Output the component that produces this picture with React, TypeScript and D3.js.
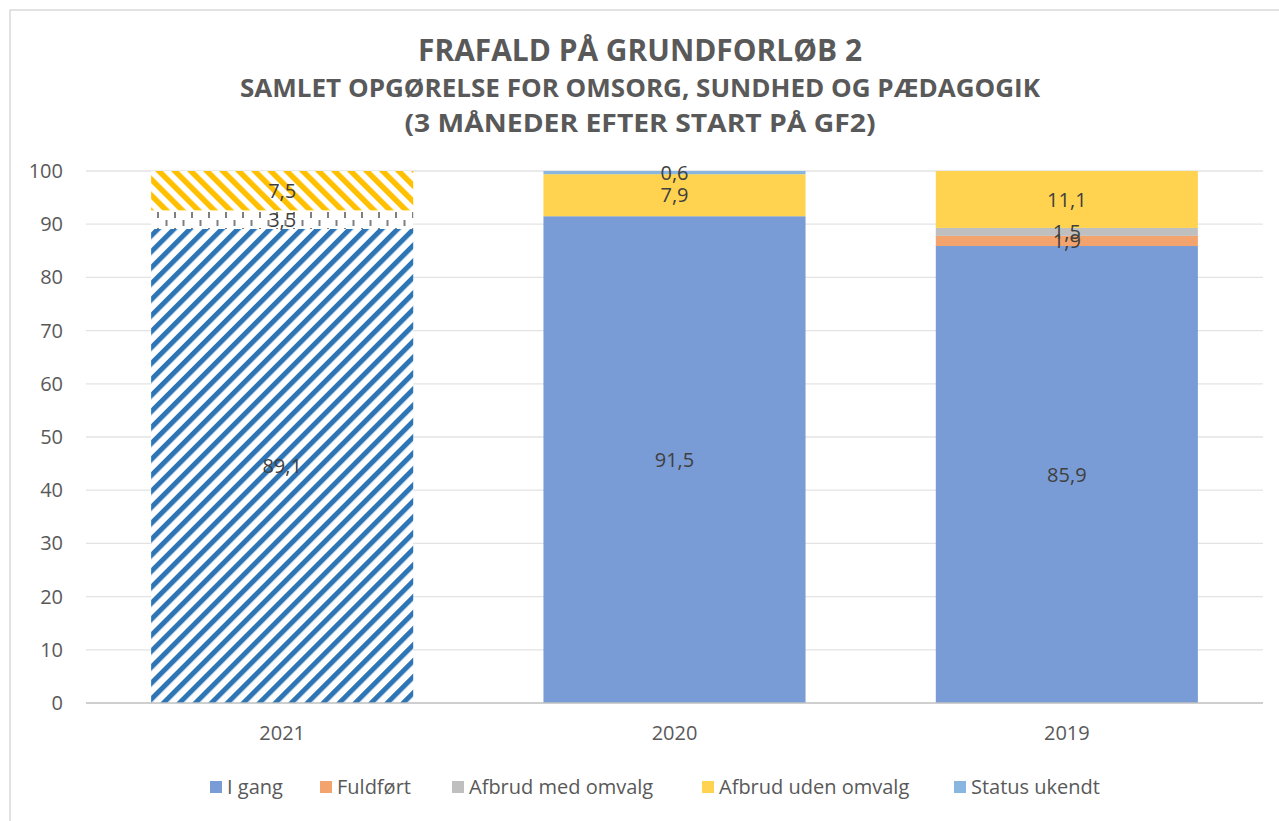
import React from 'react';
import * as d3 from 'd3';

const categories = ['2021', '2020', '2019'];
const seriesNames = ['I gang', 'Fuldført', 'Afbrud med omvalg', 'Afbrud uden omvalg', 'Status ukendt'];
const iGang = [89.1, 91.5, 85.9];
const fuldfoert = [0, 0, 1.9];
const afbrudMed = [3.5, 0, 1.5];
const afbrudUden = [7.5, 7.9, 11.1];
const statusUkendt = [0, 0.6, 0];
const hatched = [true, false, false];
const yTicks = [0, 10, 20, 30, 40, 50, 60, 70, 80, 90, 100];
const titleLines = ['FRAFALD PÅ GRUNDFORLØB 2', 'SAMLET OPGØRELSE FOR OMSORG, SUNDHED OG PÆDAGOGIK', '(3 MÅNEDER EFTER START PÅ GF2)'];

const seriesValues = [iGang, fuldfoert, afbrudMed, afbrudUden, statusUkendt];
const solidColors = ['#7A9CD6', '#F3A36D', '#BFBFBF', '#FFD34F', '#89B6E1'];
const patternIds = ['patBlue', null, 'patGray', 'patYellow', null];

const W = 1279;
const H = 821;
const FONT = '"Open Sans", "Noto Sans", sans-serif';

export default function App() {
  const rows = categories.map((c, i) => {
    const r: any = { cat: c, idx: i };
    seriesNames.forEach((s, k) => (r[s] = seriesValues[k][i]));
    return r;
  });
  const stack = d3.stack<any>().keys(seriesNames)(rows);

  const x = d3.scaleBand<string>().domain(categories).range([86, 1263]).paddingInner(0.332).paddingOuter(0.166);
  const y = d3.scaleLinear().domain([0, 100]).range([703, 171]).clamp(true);

  const fmt = (v: number) => v.toFixed(1).replace('.', ',');

  const legendX = [210, 320, 452, 702, 954];
  const titleLayout = [
    { y: 61, size: 30, len: 444 },
    { y: 97, size: 25, len: 800 },
    { y: 132, size: 25, len: 471 },
  ];

  return (
    <svg width={W} height={H} style={{ position: 'absolute', left: 0, top: 0, display: 'block', background: '#fff' }}>
      <defs>
        <pattern id="patBlue" patternUnits="userSpaceOnUse" width={11.3} height={11.3} patternTransform="rotate(45)">
          <rect x={0} y={0} width={11.3} height={11.3} fill="#fff" />
          <rect x={0} y={0} width={5} height={11.3} fill="#2E75B6" />
        </pattern>
        <pattern id="patYellow" patternUnits="userSpaceOnUse" width={11.3} height={11.3} patternTransform="rotate(-45)">
          <rect x={0} y={0} width={11.3} height={11.3} fill="#fff" />
          <rect x={0} y={0} width={5.5} height={11.3} fill="#FFC000" />
        </pattern>
        <pattern id="patGray" patternUnits="userSpaceOnUse" x={0} y={4} width={17} height={16}>
          <rect x={0} y={0} width={17} height={16} fill="#fff" />
          <rect x={4} y={0} width={2} height={6} fill="#7F7F7F" />
          <rect x={12.5} y={8} width={2} height={6} fill="#7F7F7F" />
        </pattern>
      </defs>

      <rect x={10} y={10} width={W + 20} height={H + 20} fill="#fff" stroke="#D9D9D9" strokeWidth={1.5} />

      {titleLines.map((t, i) => (
        <text
          key={t}
          x={640}
          y={titleLayout[i].y}
          textAnchor="middle"
          fontFamily={FONT}
          fontWeight={700}
          fontSize={titleLayout[i].size}
          fill="#595959"
          textLength={titleLayout[i].len}
          lengthAdjust="spacingAndGlyphs"
        >
          {t}
        </text>
      ))}

      {yTicks.map((t) => (
        <g key={t}>
          {t !== 0 && <line x1={86} x2={1263} y1={y(t)} y2={y(t)} stroke="#E3E3E3" strokeWidth={1.3} />}
          <text x={63} y={y(t)} dy="0.35em" textAnchor="end" fontFamily={FONT} fontSize={20} fill="#595959">
            {t}
          </text>
        </g>
      ))}

      {stack.map((layer, k) =>
        layer.map((d, i) => {
          const v = seriesValues[k][i];
          if (!v) return null;
          const top = y(d[1]);
          const bot = y(d[0]);
          const pid = patternIds[k];
          const fill = hatched[i] && pid ? `url(#${pid})` : solidColors[k];
          return (
            <rect key={`${k}-${i}`} x={x(categories[i])} y={top} width={x.bandwidth()} height={Math.max(0, bot - top)} fill={fill} />
          );
        })
      )}

      <line x1={86} x2={1263} y1={y(0)} y2={y(0)} stroke="#BFBFBF" strokeWidth={1.6} />

      {stack.map((layer, k) =>
        layer.map((d, i) => {
          const v = seriesValues[k][i];
          if (!v) return null;
          const cy = (y(d[0]) + y(Math.min(d[1], 100))) / 2;
          return (
            <text
              key={`l${k}-${i}`}
              x={(x(categories[i]) as number) + x.bandwidth() / 2}
              y={cy}
              dy="0.36em"
              textAnchor="middle"
              fontFamily={FONT}
              fontSize={20}
              fill="#404040"
            >
              {fmt(v)}
            </text>
          );
        })
      )}

      {categories.map((c) => (
        <text key={c} x={(x(c) as number) + x.bandwidth() / 2} y={733} dy="0.35em" textAnchor="middle" fontFamily={FONT} fontSize={20} fill="#595959">
          {c}
        </text>
      ))}

      {seriesNames.map((s, k) => (
        <g key={s}>
          <rect x={legendX[k]} y={781} width={12} height={12} fill={solidColors[k]} />
          <text x={legendX[k] + 17} y={787} dy="0.35em" fontFamily={FONT} fontSize={20} fill="#595959">
            {s}
          </text>
        </g>
      ))}
    </svg>
  );
}
